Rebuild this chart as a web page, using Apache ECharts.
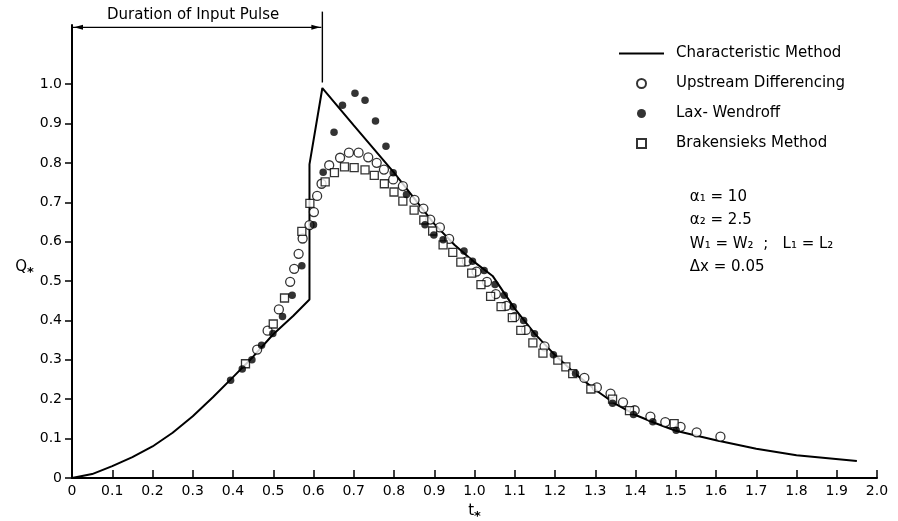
<!DOCTYPE html>
<html>
<head>
<meta charset="utf-8">
<script src="https://cdn.jsdelivr.net/npm/echarts@6/dist/echarts.min.js"></script>
<style>
  html, body { margin: 0; background: #fff; }
  #chart { width: 898px; height: 521px; }
</style>
</head>
<body>
<div id="chart"></div>
<script>
"use strict";
/* Q* vs t* — characteristic solution against three finite-difference schemes */

// characteristic method (solid line)
const charT = [0, 0.05, 0.1, 0.15, 0.2, 0.25, 0.3, 0.35, 0.4, 0.45, 0.5, 0.55, 0.59, 0.59, 0.622,
  0.7, 0.8, 0.9, 0.95, 1.0, 1.045, 1.1, 1.15, 1.2, 1.25, 1.3, 1.35, 1.4, 1.45, 1.5, 1.6, 1.7, 1.8, 1.95];
const charQ = [0, 0.01, 0.03, 0.053, 0.08, 0.115, 0.157, 0.205, 0.256, 0.308, 0.365, 0.412, 0.453, 0.796, 0.99,
  0.895, 0.775, 0.645, 0.592, 0.548, 0.513, 0.43, 0.366, 0.312, 0.265, 0.224, 0.188, 0.16, 0.139, 0.12, 0.096, 0.074, 0.058, 0.043];

// upstream differencing (open circles)
const upT = [0.46, 0.486, 0.514, 0.542, 0.552, 0.563, 0.573, 0.59, 0.601, 0.609, 0.62, 0.639, 0.666, 0.688, 0.712,
  0.736, 0.757, 0.775, 0.798, 0.822, 0.851, 0.873, 0.89, 0.914, 0.937, 0.981, 1.005, 1.031, 1.053, 1.079,
  1.10, 1.128, 1.174, 1.273, 1.304, 1.338, 1.369, 1.398, 1.437, 1.474, 1.512, 1.552, 1.611];
const upQ = [0.326, 0.374, 0.428, 0.498, 0.531, 0.569, 0.608, 0.642, 0.675, 0.716, 0.747, 0.794, 0.813, 0.826, 0.826,
  0.814, 0.80, 0.783, 0.758, 0.741, 0.706, 0.684, 0.656, 0.636, 0.607, 0.55, 0.524, 0.498, 0.467, 0.437,
  0.409, 0.376, 0.334, 0.254, 0.23, 0.214, 0.192, 0.172, 0.156, 0.142, 0.13, 0.116, 0.105];

// Lax-Wendroff (filled dots)
const lwT = [0.394, 0.423, 0.447, 0.471, 0.499, 0.523, 0.547, 0.571, 0.60, 0.624, 0.651, 0.672, 0.703, 0.728, 0.754,
  0.78, 0.798, 0.831, 0.877, 0.899, 0.922, 0.974, 0.995, 1.024, 1.051, 1.074, 1.096, 1.122, 1.149, 1.196,
  1.251, 1.343, 1.395, 1.443, 1.501];
const lwQ = [0.248, 0.277, 0.30, 0.337, 0.367, 0.41, 0.464, 0.539, 0.643, 0.776, 0.878, 0.946, 0.977, 0.959, 0.906,
  0.842, 0.775, 0.72, 0.643, 0.617, 0.605, 0.576, 0.55, 0.527, 0.491, 0.464, 0.435, 0.40, 0.366, 0.313,
  0.265, 0.19, 0.161, 0.143, 0.121];

// Brakensiek's method (open squares)
const brT = [0.431, 0.50, 0.528, 0.571, 0.591, 0.629, 0.652, 0.677, 0.701, 0.728, 0.751, 0.776, 0.80, 0.822, 0.85,
  0.874, 0.896, 0.922, 0.946, 0.966, 0.993, 1.016, 1.04, 1.066, 1.094, 1.115, 1.145, 1.17, 1.207, 1.227,
  1.244, 1.289, 1.343, 1.385, 1.496];
const brQ = [0.29, 0.391, 0.457, 0.626, 0.697, 0.752, 0.775, 0.79, 0.788, 0.782, 0.768, 0.747, 0.726, 0.703, 0.68,
  0.655, 0.627, 0.592, 0.573, 0.548, 0.52, 0.491, 0.461, 0.435, 0.407, 0.375, 0.343, 0.317, 0.299, 0.282,
  0.265, 0.226, 0.20, 0.171, 0.138];

const yTicks = [0, 0.1, 0.2, 0.3, 0.4, 0.5, 0.6, 0.7, 0.8, 0.9, 1.0];
const pulseEnd = 0.622;     // end of the input pulse, t*
const params = ["α₁ = 10", "α₂ = 2.5", "W₁ = W₂  ;   L₁ = L₂", "Δx = 0.05"];

const FONT = "DejaVu Sans";
const zip = (xs, ys) => xs.map((x, i) => [x, ys[i]]);
const fmt = (v) => v === 0 ? "0" : v.toFixed(1);
const nameRich = {
  m: {fontFamily: FONT, fontSize: 15, color: "#000"},
  s: {fontFamily: FONT, fontSize: 13, fontWeight: "bold", color: "#000", padding: [10, 0, 0, 0]},
};

const chart = echarts.init(document.getElementById("chart"), null, {renderer: "canvas"});
chart.setOption({
  animation: false,
  backgroundColor: "#fff",
  textStyle: {fontFamily: FONT, color: "#000"},
  grid: {left: 72, right: 21, top: 25, bottom: 43, outerBoundsMode: "none"},
  legend: {
    orient: "vertical", left: 613, top: 41, itemWidth: 45, itemHeight: 9, itemGap: 15,
    textStyle: {fontFamily: FONT, fontSize: 15, color: "#000", padding: [0, 0, 0, 7]},
    data: [
      {name: "Characteristic Method"},
      {name: "Upstream Differencing", icon: "circle"},
      {name: "Lax- Wendroff", icon: "circle"},
      {name: "Brakensieks Method", icon: "path://M0,0H10V10H0Z"},
    ],
  },
  xAxis: {
    type: "value", min: 0, max: 2, interval: 0.1,
    axisLine: {lineStyle: {color: "#000", width: 2}},
    axisTick: {inside: true, length: 8, lineStyle: {color: "#000", width: 1.5}},
    axisLabel: {formatter: fmt, fontFamily: FONT, fontSize: 14, color: "#000", margin: 6},
    splitLine: {show: false},
    name: "{m|t}{s|*}", nameLocation: "middle", nameGap: 22,
    nameTextStyle: {rich: nameRich},
  },
  yAxis: {
    type: "value", min: 0, max: 1.15, interval: 0.1,
    axisLine: {show: true, lineStyle: {color: "#000", width: 2}},
    axisTick: {show: true, inside: false, length: 7, customValues: yTicks,
      lineStyle: {color: "#000", width: 1.5}},
    axisLabel: {customValues: yTicks, formatter: fmt, fontFamily: FONT, fontSize: 14, color: "#000", margin: 10},
    splitLine: {show: false},
    name: "{m|Q}{s|*}", nameLocation: "middle", nameGap: 38, nameRotate: 0,
    nameTextStyle: {rich: nameRich, padding: [32, 0, 0, 0]},
  },
  series: [
    {
      name: "Characteristic Method", type: "line", data: zip(charT, charQ),
      showSymbol: false, symbol: "none", z: 2,
      lineStyle: {color: "#000", width: 2},
      itemStyle: {color: "rgba(0,0,0,0)", borderWidth: 0},
    },
    {
      name: "Upstream Differencing", type: "scatter", data: zip(upT, upQ),
      symbol: "circle", symbolSize: 9, z: 3,
      itemStyle: {color: "#fff", borderColor: "#000", borderWidth: 1.3},
    },
    {
      name: "Lax- Wendroff", type: "scatter", data: zip(lwT, lwQ),
      symbol: "circle", symbolSize: 7.5, z: 4,
      itemStyle: {color: "#000", borderColor: "#000", borderWidth: 0},
    },
    {
      name: "Brakensieks Method", type: "scatter", data: zip(brT, brQ),
      symbol: "rect", symbolSize: 8, z: 3,
      itemStyle: {color: "#fff", borderColor: "#000", borderWidth: 1.3},
    },
  ],
});

/* ---------- annotations placed through the axes' own scales ---------- */
const px = (t, q) => chart.convertToPixel({gridIndex: 0}, [t, q]);
const a = px(0, 1.144), b = px(pulseEnd, 1.144);
const vTop = px(pulseEnd, 1.184), vBot = px(pulseEnd, 1.004);
const mid = px(pulseEnd / 2 - 0.01, 1.174);
const pTxt = px(1.535, 0.744);
const arrow = (tipX, y, dir) => [[tipX, y], [tipX + dir * 9, y - 2.5], [tipX + dir * 9, y + 2.5]];

chart.setOption({
  graphic: [
    {type: "line", shape: {x1: a[0] + 1, y1: a[1], x2: b[0] - 1, y2: b[1]},
      style: {stroke: "#000", lineWidth: 1.2}},
    {type: "polygon", shape: {points: arrow(a[0] + 2, a[1], 1)}, style: {fill: "#000"}},
    {type: "polygon", shape: {points: arrow(b[0] - 2, b[1], -1)}, style: {fill: "#000"}},
    {type: "line", shape: {x1: vTop[0], y1: vTop[1], x2: vBot[0], y2: vBot[1]},
      style: {stroke: "#000", lineWidth: 1.4}},
    {type: "text", x: mid[0], y: mid[1],
      style: {text: "Duration of Input Pulse", fontFamily: FONT, fontSize: 15, fill: "#000",
        align: "center", verticalAlign: "middle"}},
    {type: "text", x: pTxt[0], y: pTxt[1],
      style: {text: params.join("\n"), fontFamily: FONT, fontSize: 15, fill: "#000",
        lineHeight: 23.5, align: "left", verticalAlign: "top"}},
  ],
});
</script>
</body>
</html>
